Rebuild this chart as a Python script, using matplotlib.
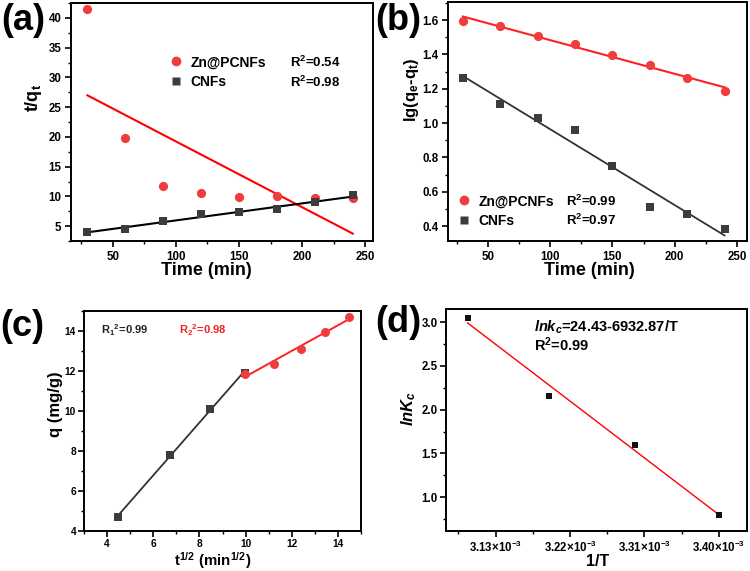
import numpy as np
import matplotlib
matplotlib.use("Agg")
import matplotlib.pyplot as plt
from matplotlib.ticker import MultipleLocator, FixedLocator, FuncFormatter
from matplotlib.lines import Line2D

plt.rcParams['font.family'] = ['Liberation Sans', 'DejaVu Sans']
plt.rcParams['font.weight'] = 'bold'
plt.rcParams['mathtext.fontset'] = 'custom'
plt.rcParams['mathtext.rm'] = 'Liberation Sans:bold'
plt.rcParams['mathtext.bf'] = 'Liberation Sans:bold'
plt.rcParams['mathtext.it'] = 'Liberation Sans:italic:bold'
plt.rcParams['axes.linewidth'] = 1.4

# ---------------- data ----------------
time_min = [30, 60, 90, 120, 150, 180, 210, 240]
a_zn = [41.5, 19.8, 11.7, 10.6, 9.9, 10.0, 9.7, 9.7]
a_cnf = [4.0, 4.5, 5.8, 7.1, 7.3, 7.8, 9.0, 10.2]

b_zn = [1.595, 1.565, 1.51, 1.46, 1.395, 1.34, 1.265, 1.185]
b_cnf = [1.265, 1.11, 1.03, 0.96, 0.75, 0.51, 0.47, 0.385]

c_t1 = [4.48, 6.74, 8.47, 9.96]
c_q1 = [4.72, 7.82, 10.12, 11.92]
c_t2 = [9.96, 11.22, 12.38, 13.45, 14.46]
c_q2 = [11.87, 12.36, 13.10, 13.93, 14.70]

d_invT = [3.096e-3, 3.195e-3, 3.299e-3, 3.400e-3]
d_lnK = [3.05, 2.155, 1.598, 0.793]

RED = '#F03C3C'
GREY = '#3C3C3C'

W, H = 750, 571
fig = plt.figure(figsize=(7.5, 5.71), dpi=100)

def rect(l, t, r, b):
    return [l / W, 1 - b / H, (r - l) / W, (b - t) / H]

def style(ax, fs=8.3, pad=2.5):
    ax.tick_params(which='major', direction='out', length=4.5, width=1.2, labelsize=fs, pad=pad)
    ax.tick_params(which='minor', direction='out', length=2.5, width=1.0)
    for lab in ax.get_xticklabels() + ax.get_yticklabels():
        lab.set_fontweight('bold')

def place_labels(ax, l, t, r, b, xl_cx, xl_top, yl_right, yl_cy):
    w, hh = r - l, b - t
    ax.xaxis.set_label_coords((xl_cx - l) / w, -(xl_top - b) / hh)
    ax.yaxis.set_label_coords((yl_right - l) / w, 1 - (yl_cy - t) / hh)

def fitline(ax, x, y, color, lw):
    p = np.polyfit(x, y, 1)
    xx = np.array([min(x), max(x)])
    ax.plot(xx, np.polyval(p, xx), color=color, lw=lw, zorder=2)

# ---------------- (a) ----------------
A = (71, 3, 373, 241)
ax = fig.add_axes(rect(*A))
ax.scatter(time_min, a_zn, s=44, marker='o', color=RED, zorder=3, linewidths=0)
ax.scatter(time_min, a_cnf, s=40, marker='s', color=GREY, zorder=3, linewidths=0)
fitline(ax, time_min, a_zn, '#FF0000', 1.5)
fitline(ax, time_min, a_cnf, '#000000', 1.5)
ax.set_xlim(17, 256)
ax.set_ylim(2.5, 42.5)
ax.xaxis.set_major_locator(MultipleLocator(50))
ax.xaxis.set_minor_locator(MultipleLocator(25))
ax.yaxis.set_major_locator(MultipleLocator(5))
ax.yaxis.set_minor_locator(MultipleLocator(2.5))
ax.set_xlabel('Time (min)', fontsize=13, fontweight='bold')
ax.set_ylabel('t/q$_\\mathrm{t}$', fontsize=13, fontweight='bold')
place_labels(ax, *A, 206, 262, 44, 98)
style(ax)
h = [Line2D([], [], ls='none', marker='o', ms=7, color=RED, mec='none'),
     Line2D([], [], ls='none', marker='s', ms=6.3, color=GREY, mec='none')]
ax.legend(h, ['Zn@PCNFs', 'CNFs'], loc='center left', bbox_to_anchor=(0.325, 0.71),
          frameon=False, handlelength=1.0, handletextpad=0.55, labelspacing=0.4,
          borderpad=0, borderaxespad=0, prop={'size': 10, 'weight': 'bold'})
ax.text(0.725, 0.750, 'R$^2$=0.54', transform=ax.transAxes, fontsize=9.5, fontweight='bold', va='center')
ax.text(0.725, 0.668, 'R$^2$=0.98', transform=ax.transAxes, fontsize=9.5, fontweight='bold', va='center')

# ---------------- (b) ----------------
B = (448, 2, 747, 241)
ax = fig.add_axes(rect(*B))
ax.scatter(time_min, b_zn, s=44, marker='o', color=RED, zorder=3, linewidths=0)
ax.scatter(time_min, b_cnf, s=40, marker='s', color=GREY, zorder=3, linewidths=0)
fitline(ax, time_min, b_zn, '#FF2020', 1.5)
fitline(ax, time_min, b_cnf, '#333333', 1.3)
ax.set_xlim(18, 258)
ax.set_ylim(0.314, 1.705)
ax.xaxis.set_major_locator(MultipleLocator(50))
ax.xaxis.set_minor_locator(MultipleLocator(25))
ax.yaxis.set_major_locator(MultipleLocator(0.2))
ax.yaxis.set_minor_locator(MultipleLocator(0.1))
ax.yaxis.set_major_formatter(FuncFormatter(lambda v, p: f'{v:.1f}'))
ax.set_xlabel('Time (min)', fontsize=13, fontweight='bold')
ax.set_ylabel('lg(q$_\\mathrm{e}$-q$_\\mathrm{t}$)', fontsize=12, fontweight='bold')
place_labels(ax, *B, 589, 262, 421, 90)
style(ax)
ax.legend(h, ['Zn@PCNFs', 'CNFs'], loc='center left', bbox_to_anchor=(0.03, 0.125),
          frameon=False, handlelength=1.0, handletextpad=0.55, labelspacing=0.4,
          borderpad=0, borderaxespad=0, prop={'size': 10, 'weight': 'bold'})
ax.text(0.395, 0.165, 'R$^2$=0.99', transform=ax.transAxes, fontsize=9.5, fontweight='bold', va='center')
ax.text(0.395, 0.085, 'R$^2$=0.97', transform=ax.transAxes, fontsize=9.5, fontweight='bold', va='center')

# ---------------- (c) ----------------
C = (84, 311, 361, 531)
ax = fig.add_axes(rect(*C))
fitline(ax, c_t1, c_q1, '#333333', 1.3)
fitline(ax, c_t2, c_q2, '#FF2020', 1.4)
ax.scatter(c_t1, c_q1, s=38, marker='s', color=GREY, zorder=3, linewidths=0)
ax.scatter(c_t2, c_q2, s=42, marker='o', color=RED, zorder=3, linewidths=0)
ax.set_xlim(3, 15)
ax.set_ylim(4, 15)
ax.xaxis.set_major_locator(MultipleLocator(2))
ax.xaxis.set_minor_locator(MultipleLocator(1))
ax.yaxis.set_major_locator(MultipleLocator(2))
ax.yaxis.set_minor_locator(MultipleLocator(1))
ax.set_xlabel('t$^{1/2}$ (min$^{1/2}$)', fontsize=10.8, fontweight='bold')
ax.set_ylabel('q (mg/g)', fontsize=12, fontweight='bold')
place_labels(ax, *C, 213, 550, 63, 404)
style(ax, fs=7.3, pad=1.2)
ax.text(3.75, 14.05, 'R$_1$$^2$=0.99', fontsize=8, fontweight='bold', va='center', color='#222222')
ax.text(7.1, 14.05, 'R$_2$$^2$=0.98', fontsize=8, fontweight='bold', va='center', color='#F02020')

# ---------------- (d) ----------------
D = (446, 309, 747, 531)
ax = fig.add_axes(rect(*D))
fitline(ax, d_invT, d_lnK, '#FF0000', 1.0)
ax.scatter(d_invT, d_lnK, s=24, marker='s', color='#111111', zorder=3, linewidths=0)
ax.set_xlim(3.070e-3, 3.434e-3)
ax.set_ylim(0.614, 3.149)
ax.xaxis.set_major_locator(FixedLocator([3.13e-3, 3.22e-3, 3.31e-3, 3.40e-3]))
ax.xaxis.set_minor_locator(FixedLocator([3.085e-3, 3.175e-3, 3.265e-3, 3.355e-3]))
ax.xaxis.set_major_formatter(FuncFormatter(lambda v, p: f'{v*1e3:.2f}×10$^{{-3}}$'))
ax.yaxis.set_major_locator(MultipleLocator(0.5))
ax.yaxis.set_minor_locator(MultipleLocator(0.25))
ax.yaxis.set_major_formatter(FuncFormatter(lambda v, p: f'{v:.1f}'))
ax.set_xlabel('1/T', fontsize=11.5, fontweight='bold')
ax.set_ylabel('$\\mathit{lnK_c}$', fontsize=12, fontweight='bold')
place_labels(ax, *D, 598, 554, 418, 408)
style(ax, fs=8.3, pad=1.5)
ax.text(3.177e-3, 2.94, '$\\mathit{lnk_c}$=24.43-6932.87/T', fontsize=10.5, fontweight='bold', va='center')
ax.text(3.177e-3, 2.74, 'R$^2$=0.99', fontsize=10.5, fontweight='bold', va='center')

# panel labels
for lab, x, y in [('(a)', 1, 21), ('(b)', 375, 21), ('(c)', 0, 327), ('(d)', 375, 323)]:
    fig.text(x / W, 1 - y / H, lab, fontsize=26, fontweight='bold', va='center', ha='left')

fig.savefig('out.png', dpi=100)
